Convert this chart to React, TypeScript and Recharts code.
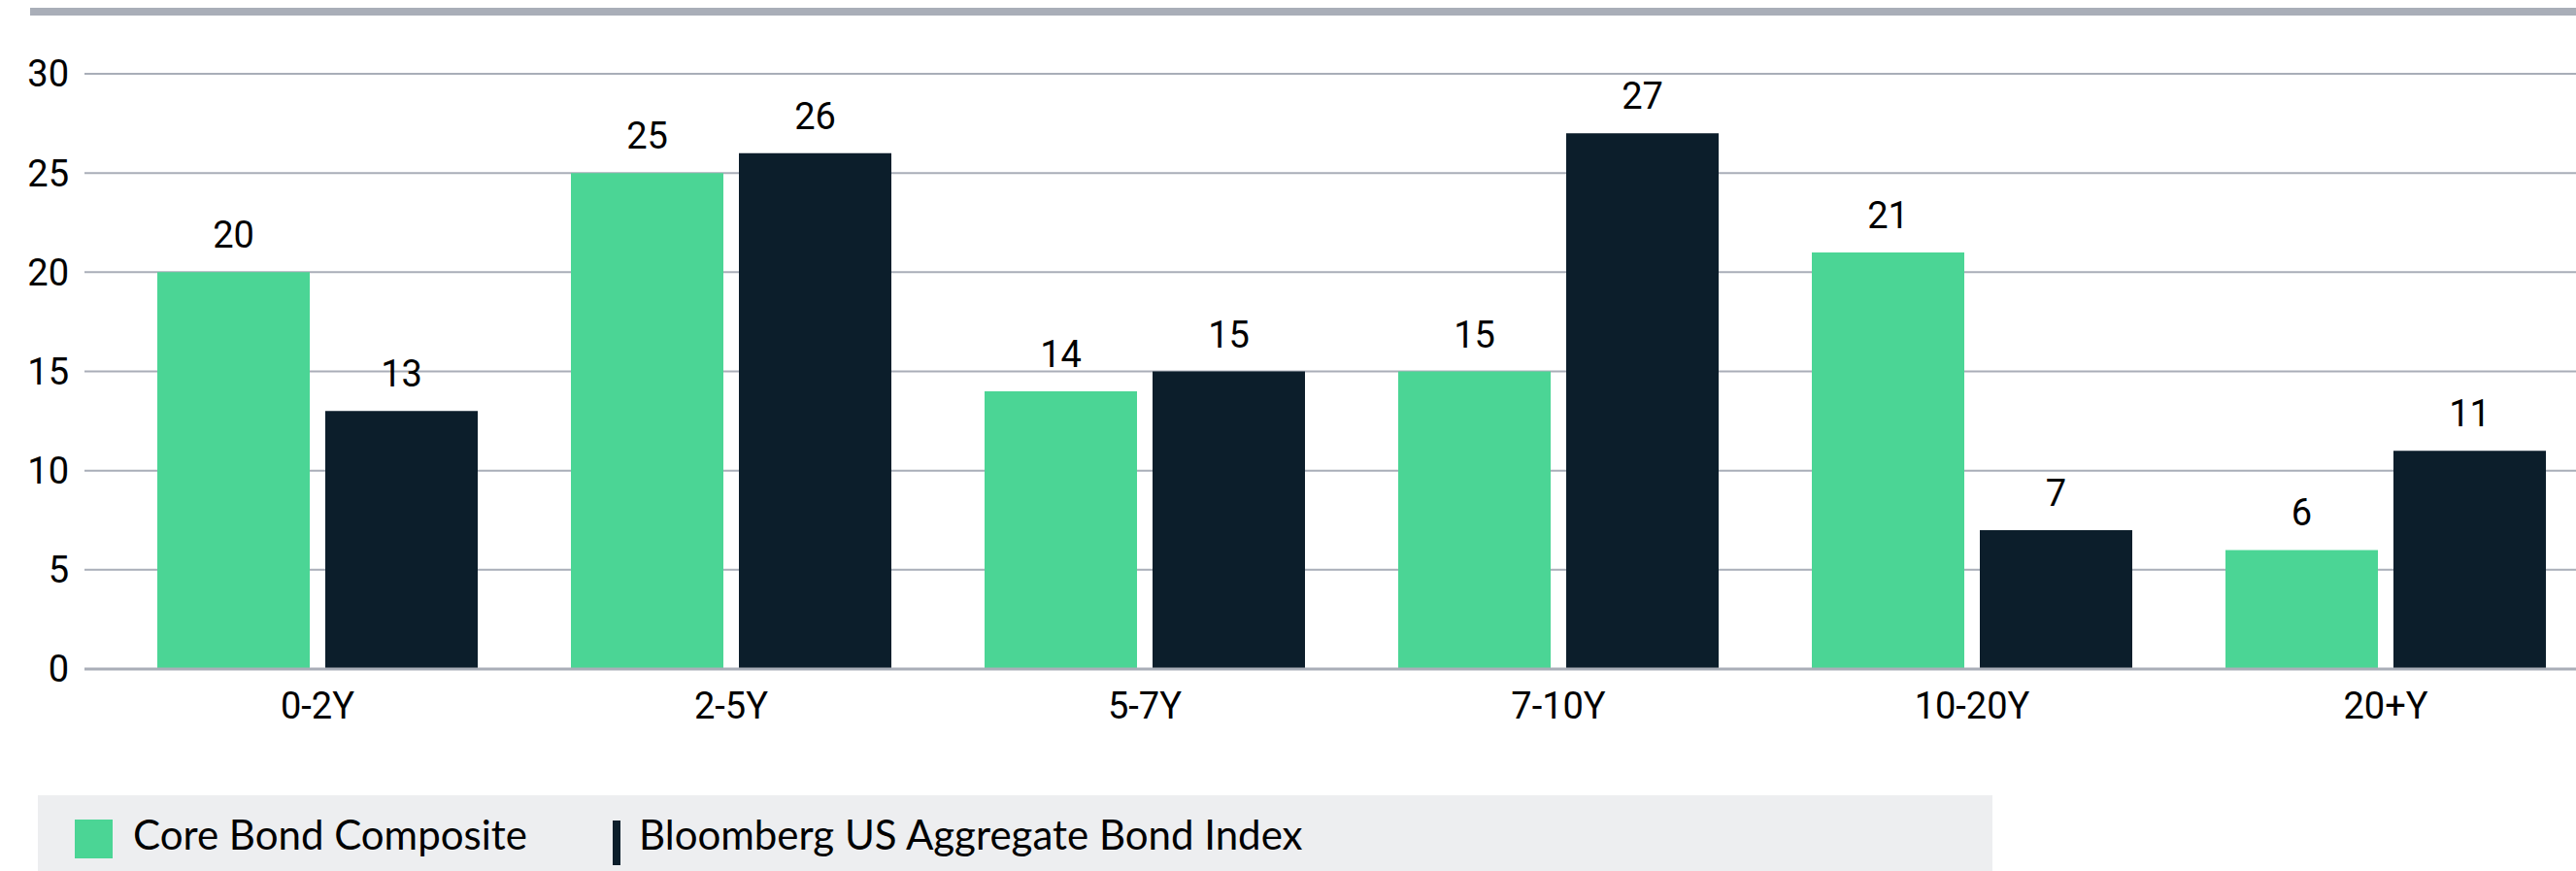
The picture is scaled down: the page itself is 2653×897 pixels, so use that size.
import React from 'react';
import {
    BarChart,
    Bar,
    XAxis,
    YAxis,
    CartesianGrid,
    Legend,
    LabelList,
} from 'recharts';

// maturity buckets and % weights
const buckets = ['0-2Y', '2-5Y', '5-7Y', '7-10Y', '10-20Y', '20+Y'];
const coreBond = [20, 25, 14, 15, 21, 6];
const bloombergAgg = [13, 26, 15, 27, 7, 11];
const yTicks = [0, 5, 10, 15, 20, 25, 30];

const GREEN = '#4bd595';
const NAVY = '#0c1e2b';
const GRID = '#a9aeb8';
const FONT = 'Roboto, sans-serif';

const data = buckets.map((bucket, i) => ({
    bucket,
    core: coreBond[i],
    agg: bloombergAgg[i],
}));

// legend order is fixed (recharts sorts by name otherwise)
const legendOrder = ['core', 'agg'];

const renderLegend = (props: any) => {
    const items = [...(props.payload || [])].sort(
        (a: any, b: any) => legendOrder.indexOf(a.dataKey) - legendOrder.indexOf(b.dataKey)
    );
    return (
        <div
            style={{
                position: 'relative',
                width: 2013,
                height: 78,
                background: '#edeef0',
                fontFamily: 'Lato, sans-serif',
                fontSize: 42,
                color: '#000',
            }}
        >
            {items.map((entry: any) => {
                const isFirst = entry.dataKey === 'core';
                const left = isFirst ? 38 : 592;
                return (
                    <div key={entry.dataKey} style={{ position: 'absolute', left, top: 0, height: 78 }}>
                        <div
                            style={{
                                position: 'absolute',
                                left: 0,
                                top: isFirst ? 25 : 26,
                                width: isFirst ? 39 : 8,
                                height: isFirst ? 40 : 46,
                                background: entry.color,
                            }}
                        />
                        <div
                            style={{
                                position: 'absolute',
                                left: isFirst ? 60 : 27,
                                top: 16,
                                whiteSpace: 'nowrap',
                                lineHeight: '48px',
                            }}
                        >
                            {entry.value}
                        </div>
                    </div>
                );
            })}
        </div>
    );
};

export default function App() {
    return (
        <div
            style={{
                position: 'absolute',
                left: 0,
                top: 0,
                width: 2653,
                height: 897,
                overflow: 'hidden',
                background: '#fff',
            }}
        >
            <div style={{ position: 'absolute', left: 31, top: 8, width: 2622, height: 8, background: GRID }} />
            <BarChart
                width={2670}
                height={897}
                data={data}
                margin={{ top: 76, right: 0, left: 0, bottom: 128 }}
                barCategoryGap={48}
                barGap={16}
            >
                <CartesianGrid vertical={false} stroke={GRID} strokeWidth={2} />
                <XAxis
                    dataKey="bucket"
                    height={80}
                    padding={{ left: 27, right: 0 }}
                    axisLine={{ stroke: GRID, strokeWidth: 3 }}
                    tickLine={false}
                    tickSize={0}
                    tickMargin={24}
                    tick={{ fill: '#000', fontSize: 38, fontFamily: FONT }}
                />
                <YAxis
                    width={87}
                    domain={[0, 30]}
                    ticks={yTicks}
                    axisLine={false}
                    tickLine={false}
                    tickSize={0}
                    tickMargin={16}
                    tick={{ fill: '#000', fontSize: 38, fontFamily: FONT }}
                />
                <Legend
                    layout="horizontal"
                    verticalAlign="middle"
                    content={renderLegend}
                    wrapperStyle={{ left: 39, top: 819, width: 2013, height: 78 }}
                />
                <Bar dataKey="core" name="Core Bond Composite" fill={GREEN} isAnimationActive={false}>
                    <LabelList
                        dataKey="core"
                        position="top"
                        offset={25}
                        style={{ fill: '#000', fontSize: 38, fontFamily: FONT }}
                    />
                </Bar>
                <Bar dataKey="agg" name="Bloomberg US Aggregate Bond Index" fill={NAVY} isAnimationActive={false}>
                    <LabelList
                        dataKey="agg"
                        position="top"
                        offset={25}
                        style={{ fill: '#000', fontSize: 38, fontFamily: FONT }}
                    />
                </Bar>
            </BarChart>
        </div>
    );
}
